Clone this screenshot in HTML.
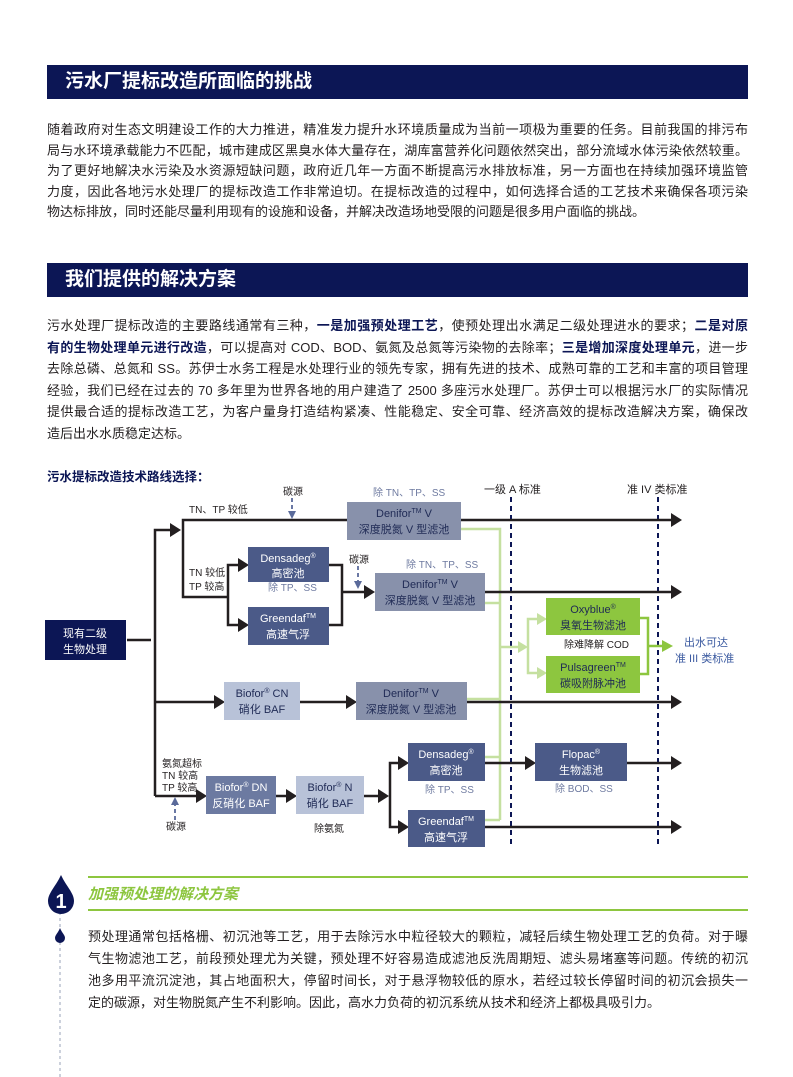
<!DOCTYPE html>
<html><head><meta charset="utf-8">
<style>
*{margin:0;padding:0;box-sizing:border-box}
body{width:793px;height:1077px;background:#fff;position:relative;overflow:hidden;font-family:"Liberation Sans","Noto Sans CJK SC",sans-serif;color:#231f20}
.bar{position:absolute;left:47px;width:701px;height:34px;background:#0c1655;color:#fff;font-weight:bold;font-size:19px;line-height:34px;padding-left:18px}
.p{position:absolute;font-size:13px;color:#231f20}
.p div{white-space:nowrap;text-align:justify;text-align-last:justify}
.p div.l{text-align-last:left}
b.n{color:#0c1655}
</style></head><body>
<div class="bar" style="top:65px">污水厂提标改造所面临的挑战</div>
<div class="p" style="left:47px;top:120px;width:701px;line-height:20.5px">
<div>随着政府对生态文明建设工作的大力推进，精准发力提升水环境质量成为当前一项极为重要的任务。目前我国的排污布</div>
<div>局与水环境承载能力不匹配，城市建成区黑臭水体大量存在，湖库富营养化问题依然突出，部分流域水体污染依然较重。</div>
<div>为了更好地解决水污染及水资源短缺问题，政府近几年一方面不断提高污水排放标准，另一方面也在持续加强环境监管</div>
<div>力度，因此各地污水处理厂的提标改造工作非常迫切。在提标改造的过程中，如何选择合适的工艺技术来确保各项污染</div>
<div class="l">物达标排放，同时还能尽量利用现有的设施和设备，并解决改造场地受限的问题是很多用户面临的挑战。</div>
</div>
<div class="bar" style="top:263px">我们提供的解决方案</div>
<div class="p" style="left:47px;top:315px;width:701px;line-height:21.5px">
<div>污水处理厂提标改造的主要路线通常有三种，<b class="n">一是加强预处理工艺</b>，使预处理出水满足二级处理进水的要求；<b class="n">二是对原</b></div>
<div><b class="n">有的生物处理单元进行改造</b>，可以提高对 COD、BOD、氨氮及总氮等污染物的去除率；<b class="n">三是增加深度处理单元</b>，进一步</div>
<div>去除总磷、总氮和 SS。苏伊士水务工程是水处理行业的领先专家，拥有先进的技术、成熟可靠的工艺和丰富的项目管理</div>
<div>经验，我们已经在过去的 70 多年里为世界各地的用户建造了 2500 多座污水处理厂。苏伊士可以根据污水厂的实际情况</div>
<div>提供最合适的提标改造工艺，为客户量身打造结构紧凑、性能稳定、安全可靠、经济高效的提标改造解决方案，确保改</div>
<div class="l">造后出水水质稳定达标。</div>
</div>

<svg style="position:absolute;left:0;top:0" width="793" height="1077" font-family="Liberation Sans,Noto Sans CJK SC,sans-serif">
<text x="47" y="481" font-size="12.5" font-weight="bold" fill="#0c1655">污水提标改造技术路线选择：</text>
<!-- dashed standards -->
<g stroke="#0c1655" stroke-width="2" stroke-dasharray="5,4">
<line x1="511" y1="497" x2="511" y2="848"/><line x1="658" y1="497" x2="658" y2="848"/></g>
<g font-size="11" fill="#231f20"><text x="484" y="493">一级 A 标准</text><text x="627" y="493">准 IV 类标准</text></g>
<!-- green light lines -->
<g stroke="#c5e0a0" stroke-width="2.5" fill="none">
<polyline points="461,529 500,529 500,820"/>
<line x1="485" y1="603" x2="500" y2="603"/>
<line x1="467" y1="699" x2="500" y2="699"/>
<line x1="485" y1="757" x2="500" y2="757"/>
<line x1="485" y1="820" x2="500" y2="820"/>
<line x1="500" y1="647" x2="520" y2="647"/>
<polyline points="540,619 528,619 528,673 540,673"/>
</g>
<g fill="#c5e0a0"><polygon points="518,641 528,647 518,653"/><polygon points="537,613 547,619 537,625"/><polygon points="537,667 547,673 537,679"/></g>
<g stroke="#8dc63f" stroke-width="2.5" fill="none"><polyline points="640,618 648,618 648,674 640,674"/><line x1="648" y1="646" x2="664" y2="646"/></g>
<polygon points="662,640 673,646 662,652" fill="#8dc63f"/>
<!-- black lines -->
<g stroke="#231f20" stroke-width="2.5" fill="none">
<line x1="127" y1="640" x2="151" y2="640"/>
<polyline points="155,796 155,530 172,530"/>
<polyline points="347,520 183,520 183,597 228,597"/>
<polyline points="240,565 228,565 228,625 240,625"/>
<polyline points="329,565 342,565 342,625 329,625"/>
<line x1="342" y1="592" x2="366" y2="592"/>
<line x1="461" y1="520" x2="673" y2="520"/>
<line x1="485" y1="592" x2="673" y2="592"/>
<line x1="155" y1="702" x2="216" y2="702"/>
<line x1="300" y1="702" x2="348" y2="702"/>
<line x1="467" y1="702" x2="673" y2="702"/>
<line x1="155" y1="796" x2="198" y2="796"/>
<line x1="276" y1="796" x2="288" y2="796"/>
<line x1="364" y1="796" x2="380" y2="796"/>
<polyline points="400,763 390,763 390,827 400,827"/>
<line x1="485" y1="763" x2="527" y2="763"/>
<line x1="627" y1="763" x2="673" y2="763"/>
<line x1="485" y1="827" x2="673" y2="827"/>
</g>
<g fill="#231f20">
<polygon points="170,523 181,530 170,537"/>
<polygon points="238,558 249,565 238,572"/><polygon points="238,618 249,625 238,632"/>
<polygon points="364,585 375,592 364,599"/>
<polygon points="671,513 682,520 671,527"/><polygon points="671,585 682,592 671,599"/>
<polygon points="671,695 682,702 671,709"/><polygon points="671,756 682,763 671,770"/><polygon points="671,820 682,827 671,834"/>
<polygon points="214,695 225,702 214,709"/><polygon points="346,695 357,702 346,709"/>
<polygon points="196,789 207,796 196,803"/><polygon points="286,789 297,796 286,803"/><polygon points="378,789 389,796 378,803"/>
<polygon points="398,756 409,763 398,770"/><polygon points="398,820 409,827 398,834"/>
<polygon points="525,756 536,763 525,770"/>
</g>
<!-- carbon source arrows -->
<g stroke="#5a6a9a" stroke-width="1.8" stroke-dasharray="4,3"><line x1="292" y1="498" x2="292" y2="512"/><line x1="358" y1="566" x2="358" y2="582"/><line x1="175" y1="820" x2="175" y2="804"/></g>
<g fill="#5a6a9a"><polygon points="288,511 296,511 292,519"/><polygon points="354,581 362,581 358,589"/><polygon points="171,805 179,805 175,797"/></g>
<g font-size="10" fill="#231f20">
<text x="283" y="495">碳源</text><text x="349" y="563">碳源</text><text x="166" y="830">碳源</text>
<text x="189" y="513">TN、TP 较低</text>
<text x="189" y="576">TN 较低</text><text x="189" y="590">TP 较高</text>
<text x="162" y="767">氨氮超标</text><text x="162" y="779">TN 较高</text><text x="162" y="791">TP 较高</text>
<text x="564" y="648">除难降解 COD</text>
<text x="314" y="832">除氨氮</text>
</g>
<g font-size="10" fill="#6e7aa0">
<text x="373" y="496">除 TN、TP、SS</text><text x="406" y="568">除 TN、TP、SS</text>
<text x="268" y="591">除 TP、SS</text><text x="425" y="793">除 TP、SS</text><text x="555" y="792">除 BOD、SS</text>
</g>
<g font-size="11" fill="#3b5aa0"><text x="684" y="646">出水可达</text><text x="675" y="662">准 III 类标准</text></g>
<!-- boxes -->
<rect x="45" y="620" width="81" height="40" fill="#0c1655"/>
<rect x="347" y="502" width="114" height="38" fill="#8891ab"/>
<rect x="375" y="573" width="110" height="38" fill="#8891ab"/>
<rect x="356" y="682" width="111" height="38" fill="#8891ab"/>
<rect x="248" y="547" width="81" height="35" fill="#4b5a88"/>
<rect x="248" y="607" width="81" height="38" fill="#4b5a88"/>
<rect x="408" y="743" width="77" height="38" fill="#4b5a88"/>
<rect x="408" y="810" width="77" height="37" fill="#4b5a88"/>
<rect x="535" y="743" width="92" height="38" fill="#4b5a88"/>
<rect x="224" y="682" width="76" height="38" fill="#b8c2d8"/>
<rect x="296" y="776" width="68" height="38" fill="#b8c2d8"/>
<rect x="206" y="776" width="70" height="38" fill="#6c7aa1"/>
<rect x="546" y="598" width="94" height="37" fill="#8dc63f"/>
<rect x="546" y="656" width="94" height="37" fill="#8dc63f"/>
<g font-size="11" text-anchor="middle">
<g fill="#fff">
<text x="85" y="637">现有二级</text><text x="85" y="653">生物处理</text>
<text x="288" y="562">Densadeg<tspan font-size="7" dy="-4">®</tspan></text><text x="288" y="577">高密池</text>
<text x="288" y="622">Greendaf<tspan font-size="7" dy="-4">TM</tspan></text><text x="288" y="638">高速气浮</text>
<text x="446" y="758">Densadeg<tspan font-size="7" dy="-4">®</tspan></text><text x="446" y="774">高密池</text>
<text x="446" y="825">Greendaf<tspan font-size="7" dy="-4">TM</tspan></text><text x="446" y="841">高速气浮</text>
<text x="581" y="758">Flopac<tspan font-size="7" dy="-4">®</tspan></text><text x="581" y="774">生物滤池</text>
<text x="241" y="791">Biofor<tspan font-size="7" dy="-4">®</tspan><tspan dy="4"> DN</tspan></text><text x="241" y="807">反硝化 BAF</text>
</g>
<g fill="#1f2a55">
<text x="404" y="517">Denifor<tspan font-size="7" dy="-4">TM</tspan><tspan dy="4"> V</tspan></text><text x="404" y="533">深度脱氮 V 型滤池</text>
<text x="430" y="588">Denifor<tspan font-size="7" dy="-4">TM</tspan><tspan dy="4"> V</tspan></text><text x="430" y="604">深度脱氮 V 型滤池</text>
<text x="411" y="697">Denifor<tspan font-size="7" dy="-4">TM</tspan><tspan dy="4"> V</tspan></text><text x="411" y="713">深度脱氮 V 型滤池</text>
<text x="262" y="697">Biofor<tspan font-size="7" dy="-4">®</tspan><tspan dy="4"> CN</tspan></text><text x="262" y="713">硝化 BAF</text>
<text x="330" y="791">Biofor<tspan font-size="7" dy="-4">®</tspan><tspan dy="4"> N</tspan></text><text x="330" y="807">硝化 BAF</text>
<text x="593" y="613">Oxyblue<tspan font-size="7" dy="-4">®</tspan></text><text x="593" y="629">臭氧生物滤池</text>
<text x="593" y="671">Pulsagreen<tspan font-size="7" dy="-4">TM</tspan></text><text x="593" y="687">碳吸附脉冲池</text>
</g></g>
<!-- section 1 -->
<line x1="88" y1="877" x2="748" y2="877" stroke="#8dc63f" stroke-width="2"/>
<line x1="88" y1="910" x2="748" y2="910" stroke="#8dc63f" stroke-width="2"/>
<line x1="60" y1="912" x2="60" y2="1077" stroke="#9aa3b8" stroke-width="1" stroke-dasharray="3,3"/>
<path d="M61,875 C66,886 74,893 74,901 A13,13 0 0 1 48,901 C48,893 56,886 61,875Z" fill="#0c1655"/>
<text x="61" y="908" font-size="20" font-weight="bold" fill="#fff" text-anchor="middle">1</text>
<path d="M60,928 C62,933 65,935 65,938 A5,5 0 0 1 55,938 C55,935 58,933 60,928Z" fill="#0c1655"/>
<text x="88" y="899" font-size="15" font-weight="bold" font-style="italic" fill="#8dc63f">加强预处理的解决方案</text>
</svg>
<div class="p" style="left:88px;top:926px;width:660px;line-height:22px">
<div>预处理通常包括格栅、初沉池等工艺，用于去除污水中粒径较大的颗粒，减轻后续生物处理工艺的负荷。对于曝</div>
<div>气生物滤池工艺，前段预处理尤为关键，预处理不好容易造成滤池反洗周期短、滤头易堵塞等问题。传统的初沉</div>
<div>池多用平流沉淀池，其占地面积大，停留时间长，对于悬浮物较低的原水，若经过较长停留时间的初沉会损失一</div>
<div class="l">定的碳源，对生物脱氮产生不利影响。因此，高水力负荷的初沉系统从技术和经济上都极具吸引力。</div>
</div>
</body></html>
